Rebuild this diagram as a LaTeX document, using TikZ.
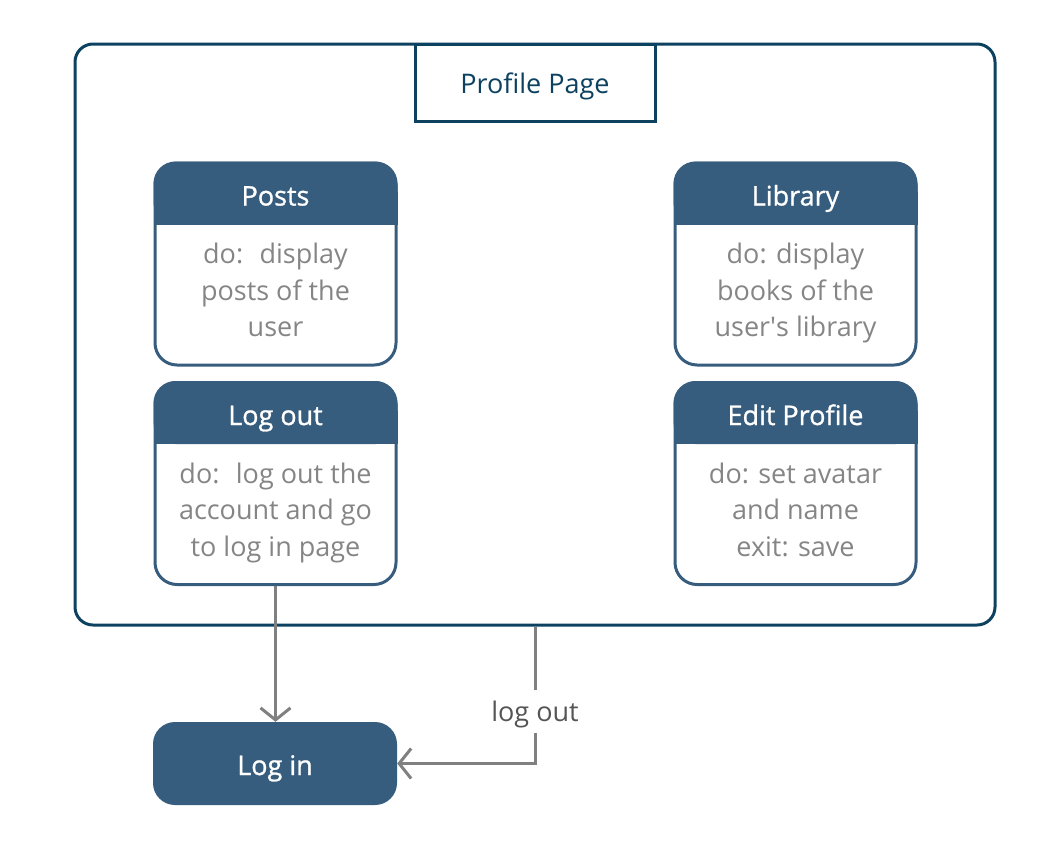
\documentclass[tikz,border=0pt]{standalone}
\usepackage{fontspec}
\setmainfont{Open Sans}
\usetikzlibrary{arrows.meta,positioning}
\definecolor{frameblue}{HTML}{0C4160}
\definecolor{headblue}{HTML}{365C7E}
\definecolor{linegray}{HTML}{808080}
\definecolor{textgray}{HTML}{858585}
\definecolor{labelgray}{HTML}{555555}

\begin{document}
\begin{tikzpicture}[x=1pt,y=-1pt]
\tikzstyle{every node}=[font=\fontsize{27}{36.5}\selectfont,inner sep=0pt];
\tikzstyle{oneline}=[text height=27pt,text depth=6pt];
\tikzstyle{heading}=[oneline,text=white,font=\fontsize{27}{36.5}\selectfont\addfontfeature{FakeBold=1}];
\tikzstyle{statebox}=[draw=headblue,line width=3pt,rounded corners=22pt,minimum width=241pt,minimum height=202pt];
\tikzstyle{flow}=[draw=linegray,line width=3pt,-{Straight Barb[length=12pt,width=30pt]}];
\useasboundingbox (0,0) rectangle (1056,847);

% outer state
\node[draw=frameblue,line width=3pt,rounded corners=18pt,minimum width=920pt,minimum height=581pt] (profile) at (535,334.5) {};
\node[oneline,draw=frameblue,fill=white,line width=3pt,minimum width=240pt,minimum height=77pt,text=frameblue] (title) at (535,82.5) {Profile Page};

% inner states
\foreach \nm/\x/\y/\ttl/\txt in {
  posts/275.5/264/Posts/{do:~ display\\posts of the\\user},
  library/795.5/264/Library/{do: display\\books of the\\user\textquotesingle s library},
  logout/275.5/483.5/Log out/{do:~ log out the\\account and go\\to log in page},
  edit/795.5/483.5/Edit Profile/{do: set avatar\\and name\\exit: save}}
{
  \node[statebox] (\nm) at (\x,\y) {};
  \fill[headblue,rounded corners=22pt] (\nm.north west) rectangle ([yshift=-63pt]\nm.north east);
  \fill[headblue] ([yshift=-30pt]\nm.north west) rectangle ([yshift=-63pt]\nm.north east);
  \node[heading] at ([yshift=-33.5pt]\nm.north) {\ttl};
  \node[text=textgray,align=center] at ([yshift=-131.5pt]\nm.north) {\strut\txt\strut};
}

\node[heading,fill=headblue,rounded corners=22pt,minimum width=244pt,minimum height=83pt,text height=28pt,text depth=5pt] (login) at (275,763.5) {Log in};

% transitions
\draw[flow] (logout.south) -- (logout.south |- login.north);
\draw[flow] (profile.south) |- node[oneline,pos=0.31,fill=white,text=labelgray,inner sep=5pt] {log out} (login.east);
\end{tikzpicture}
\end{document}
